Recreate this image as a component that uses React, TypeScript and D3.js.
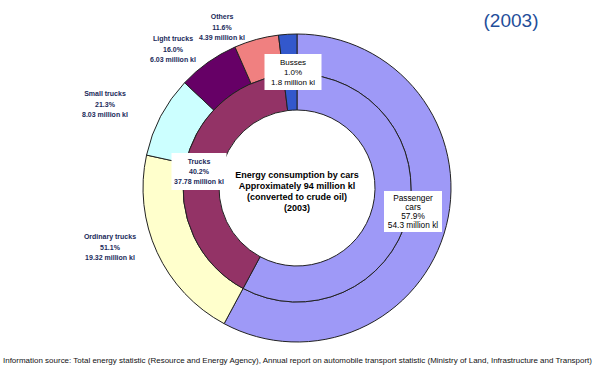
import React, { useEffect, useRef } from "react";
import * as d3 from "d3";

// million kl, 2003
const innerNames = ["Passenger cars", "Trucks", "Busses"];
const innerValues = [54.3, 37.78, 1.8];
const innerColors = ["#9E99F7", "#933366", "#3358CC"];

const outerNames = ["Passenger cars", "Ordinary trucks", "Small trucks", "Light trucks", "Others", "Busses"];
const outerValues = [54.3, 19.32, 8.03, 6.03, 4.39, 1.8];
const outerColors = ["#9E99F7", "#FFFFCC", "#CCFFFF", "#660066", "#F08080", "#3358CC"];

// outside labels for the truck breakdown
const truckLabels = [
  { lines: ["Ordinary trucks", "51.1%", "19.32 million kl"], x: 110, y: 236 },
  { lines: ["Small trucks", "21.3%", "8.03 million kl"], x: 105, y: 93 },
  { lines: ["Light trucks", "16.0%", "6.03 million kl"], x: 173, y: 38 },
  { lines: ["Others", "11.6%", "4.39 million kl"], x: 222, y: 16 },
];

// boxed labels
const boxLabels = [
  { lines: ["Busses", "1.0%", "1.8 million kl"], x: 293, y: 54, w: 57, h: 36, size: 8, bold: false },
  { lines: ["Trucks", "40.2%", "37.78 million kl"], x: 199, y: 153, w: 55, h: 37, size: 7, bold: true },
  { lines: ["Passenger", "cars", "57.9%", "54.3 million kl"], x: 413, y: 191, w: 58, h: 41, size: 8.3, bold: false },
];

const centerLines = [
  "Energy consumption by cars",
  "Approximately 94 million kl",
  "(converted to crude oil)",
  "(2003)",
];

const source =
  "Information source: Total energy statistic (Resource and Energy Agency), Annual  report on automobile  transport statistic (Ministry of Land, Infrastructure  and Transport)";

const W = 597;
const H = 372;

const App = () => {
  const svgRef = useRef<SVGSVGElement>(null);

  useEffect(() => {
    const svg = d3.select(svgRef.current);
    svg.selectAll("*").remove();

    const cx = 297;
    const cy = 188;
    const rHole = 78;
    const rMid = 114;
    const rOuter = 154;

    const pie = d3.pie<number>().sort(null).value((d) => d);
    const g = svg.append("g").attr("transform", `translate(${cx},${cy})`);

    const outerArc = d3.arc<d3.PieArcDatum<number>>().innerRadius(rMid).outerRadius(rOuter);
    const innerArc = d3.arc<d3.PieArcDatum<number>>().innerRadius(rHole).outerRadius(rMid);

    g.selectAll("path.outer")
      .data(pie(outerValues))
      .join("path")
      .attr("class", "outer")
      .attr("d", outerArc)
      .attr("fill", (d, i) => outerColors[i])
      .attr("stroke", "#222")
      .attr("stroke-width", 1);

    g.selectAll("path.inner")
      .data(pie(innerValues))
      .join("path")
      .attr("class", "inner")
      .attr("d", innerArc)
      .attr("fill", (d, i) => innerColors[i])
      .attr("stroke", "#222")
      .attr("stroke-width", 1);

    const font = "Arial, 'Liberation Sans', sans-serif";

    // truck breakdown labels
    truckLabels.forEach((l) => {
      const t = svg
        .append("text")
        .attr("text-anchor", "middle")
        .attr("font-family", font)
        .attr("font-size", 7)
        .attr("font-weight", "bold")
        .attr("fill", "#1a2a5a");
      l.lines.forEach((s, i) => {
        t.append("tspan").attr("x", l.x).attr("y", l.y + 3 + i * 10.5).text(s);
      });
    });

    // boxed labels
    boxLabels.forEach((l) => {
      svg
        .append("rect")
        .attr("x", l.x - l.w / 2)
        .attr("y", l.y)
        .attr("width", l.w)
        .attr("height", l.h)
        .attr("fill", "#fff");
      const step = (l.h - 6) / l.lines.length;
      const t = svg
        .append("text")
        .attr("text-anchor", "middle")
        .attr("font-family", font)
        .attr("font-size", l.size)
        .attr("font-weight", l.bold ? "bold" : "normal")
        .attr("fill", l.bold ? "#1a2a5a" : "#000");
      l.lines.forEach((s, i) => {
        t.append("tspan")
          .attr("x", l.x)
          .attr("y", l.y + 3 + step * (i + 0.5) + l.size * 0.35)
          .text(s);
      });
    });

    // center text
    const ct = svg
      .append("text")
      .attr("text-anchor", "middle")
      .attr("font-family", font)
      .attr("font-size", 9)
      .attr("font-weight", "bold")
      .attr("fill", "#000");
    centerLines.forEach((s, i) => {
      ct.append("tspan").attr("x", cx).attr("y", 178 + i * 11).text(s);
    });

    // title
    svg
      .append("text")
      .attr("x", 511)
      .attr("y", 27)
      .attr("text-anchor", "middle")
      .attr("font-family", font)
      .attr("font-size", 19)
      .attr("fill", "#1F4E9A")
      .text("(2003)");

    // source
    svg
      .append("text")
      .attr("x", 3)
      .attr("y", 363)
      .attr("font-family", font)
      .attr("font-size", 7)
      .attr("fill", "#111")
      .attr("textLength", 589)
      .attr("lengthAdjust", "spacingAndGlyphs")
      .text(source);
  }, []);

  return (
    <svg
      ref={svgRef}
      width={W}
      height={H}
      style={{ position: "absolute", left: 0, top: 0, background: "#fff" }}
    />
  );
};

export default App;
